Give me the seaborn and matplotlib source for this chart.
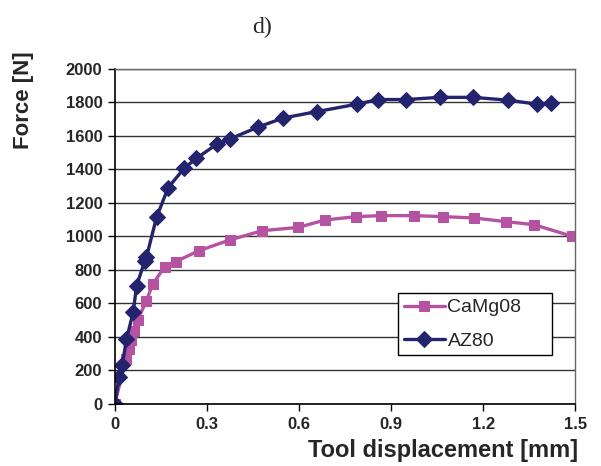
import pandas as pd
import seaborn as sns
import matplotlib.pyplot as plt

# values
az80_x = [0, 0.014, 0.024, 0.038, 0.060, 0.071, 0.097, 0.103, 0.136, 0.174, 0.226,
          0.266, 0.332, 0.375, 0.467, 0.549, 0.658, 0.788, 0.859, 0.949, 1.058,
          1.168, 1.282, 1.377, 1.422]
az80_y = [0, 160, 230, 386, 548, 704, 850, 874, 1113, 1290, 1405,
          1465, 1548, 1580, 1651, 1705, 1743, 1787, 1815, 1815, 1828,
          1828, 1811, 1787, 1793]

camg_x = [0, 0.036, 0.046, 0.054, 0.063, 0.074, 0.103, 0.123, 0.163, 0.199, 0.274,
          0.375, 0.480, 0.598, 0.685, 0.786, 0.866, 0.976, 1.071, 1.171, 1.275,
          1.366, 1.49]
camg_y = [0, 266, 328, 381, 437, 501, 614, 713, 819, 849, 914,
          978, 1033, 1053, 1097, 1117, 1123, 1123, 1117, 1109, 1087,
          1069, 1000]

x_ticks = [0, 0.3, 0.6, 0.9, 1.2, 1.5]
x_labels = ["0", "0.3", "0.6", "0.9", "1.2", "1.5"]
y_ticks = list(range(0, 2001, 200))

pink = "#B552A2"
navy = "#23236E"

sns.set_style("white")
plt.rcParams["font.family"] = ["Liberation Sans", "DejaVu Sans"]

fig = plt.figure(figsize=(6.01, 4.66), dpi=100)
ax = fig.add_axes([0.191, 0.133, 0.766, 0.720])

camg = pd.DataFrame({"x": camg_x, "y": camg_y})
az80 = pd.DataFrame({"x": az80_x, "y": az80_y})

sns.lineplot(data=camg, x="x", y="y", ax=ax, color=pink, marker="s", markersize=7.5,
             markeredgecolor=pink, linewidth=2.4, sort=False, label="CaMg08")
sns.lineplot(data=az80, x="x", y="y", ax=ax, color=navy, marker="D", markersize=8,
             markeredgecolor=navy, linewidth=2.4, sort=False, label="AZ80")

ax.set_xlim(0, 1.5)
ax.set_ylim(0, 2000)
ax.set_xticks(x_ticks)
ax.set_xticklabels(x_labels, fontsize=12, fontweight="bold")
ax.set_yticks(y_ticks)
ax.set_yticklabels([str(v) for v in y_ticks], fontsize=12, fontweight="bold")
ax.tick_params(axis="both", direction="out", length=5, width=1, color="black",
               bottom=True, left=True, pad=4)
ax.grid(axis="y", color="#333333", linewidth=1)
ax.set_axisbelow(True)
for side in ["left", "bottom"]:
    ax.spines[side].set_color("black")
    ax.spines[side].set_linewidth(1.2)
for side in ["top", "right"]:
    ax.spines[side].set_color("#666666")
    ax.spines[side].set_linewidth(1)
ax.set_xlabel("")
ax.set_ylabel("")

leg = ax.legend(loc="upper left", bbox_to_anchor=(0.615, 0.331, 0.335, 0),
                mode="expand", borderaxespad=0, fontsize=14, frameon=True,
                fancybox=False, handlelength=2.1, borderpad=0.3, labelspacing=0.8,
                handletextpad=0.15)
leg.get_frame().set_edgecolor("black")
leg.get_frame().set_linewidth(1)
leg.get_frame().set_alpha(1)

fig.text(262 / 601, 1 - 27 / 466, "d)", fontsize=17, ha="center", va="center",
         family=["Liberation Serif", "DejaVu Serif"])
fig.text(24 / 601, 1 - 100 / 466, "Force [N]", fontsize=16, fontweight="bold",
         rotation=90, ha="center", va="center")
fig.text(443 / 601, 1 - 457 / 466, "Tool displacement [mm]", fontsize=17,
         fontweight="bold", ha="center", va="baseline")

fig.savefig("out.png", dpi=100)
